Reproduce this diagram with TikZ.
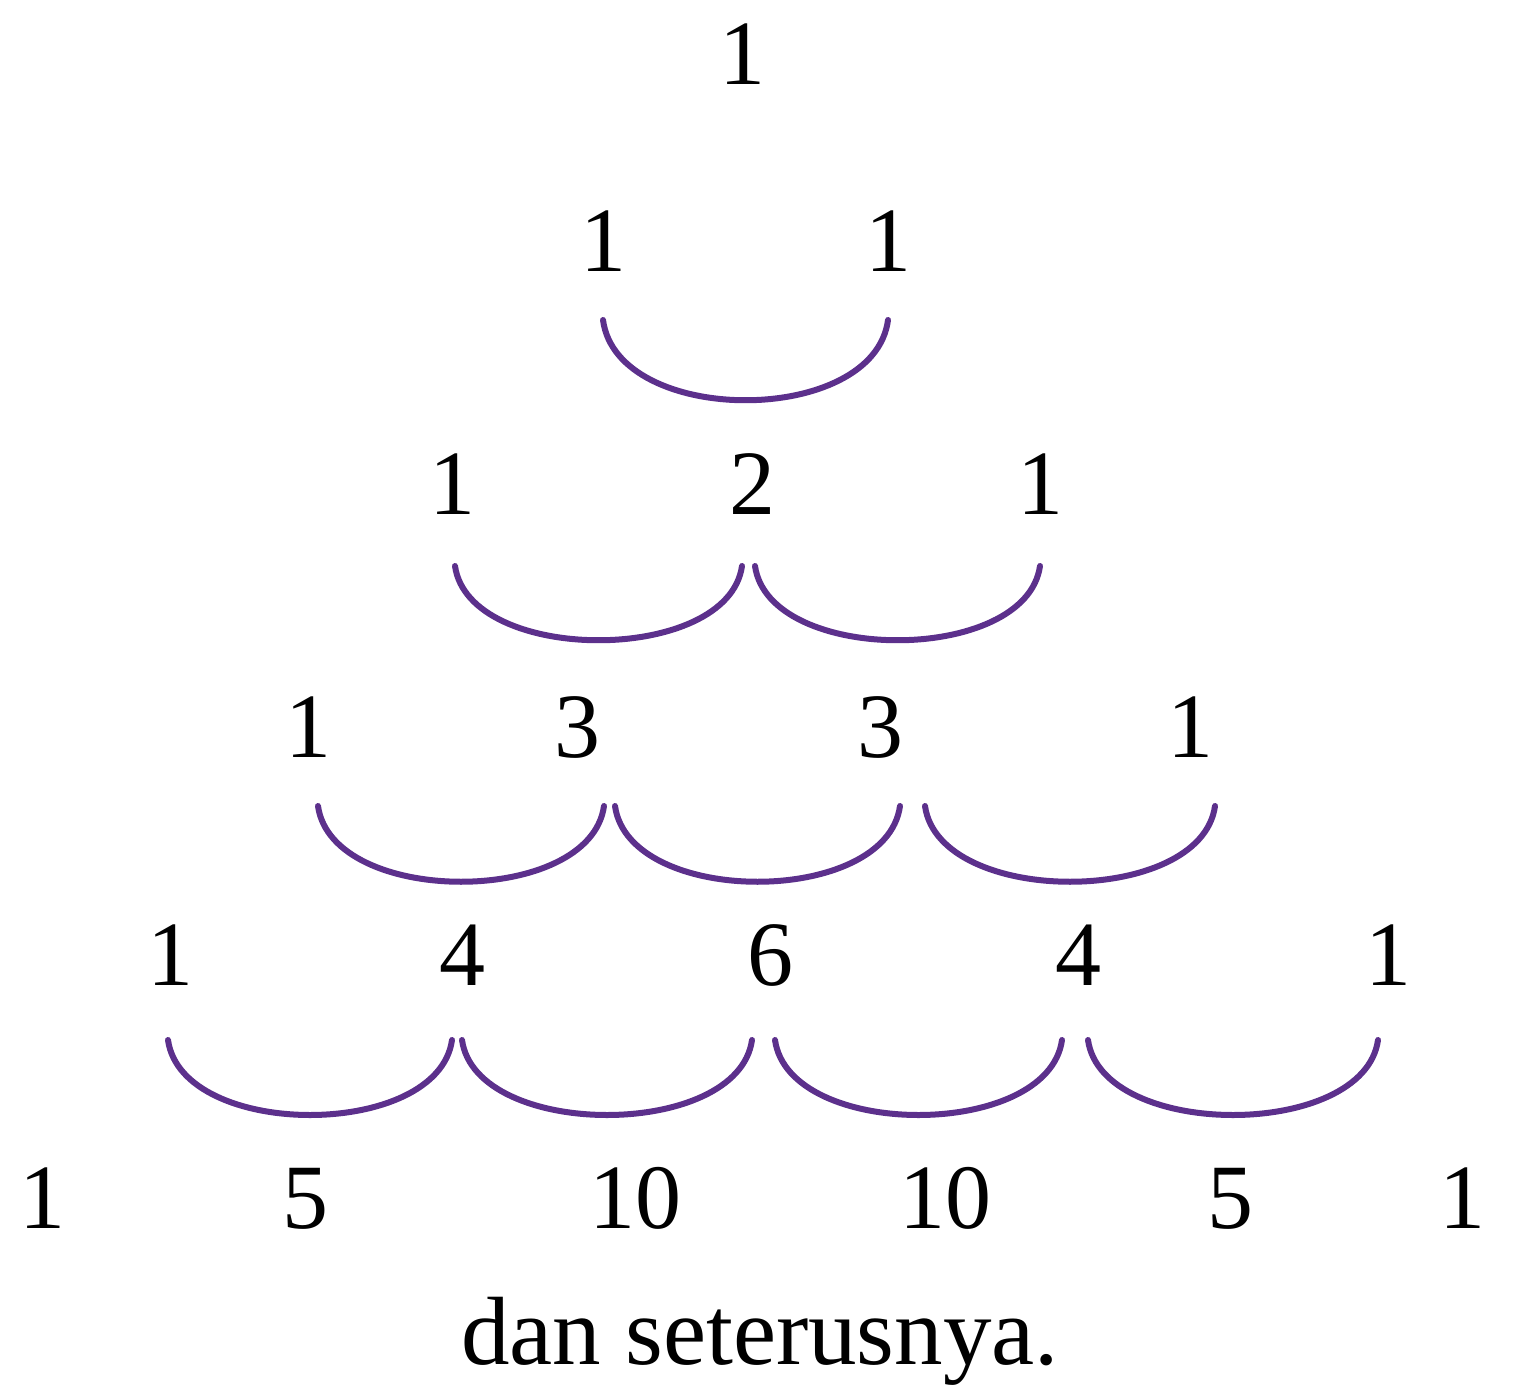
\documentclass[tikz,border=0pt]{standalone}
\usepackage{fontspec}
\setmainfont{Liberation Serif}
\definecolor{arcpurple}{RGB}{92,48,140}
\begin{document}
\begin{tikzpicture}[x=0.5pt,y=-0.5pt,
  num/.style={anchor=base,inner sep=0pt,font=\fontsize{46}{50}\selectfont},
  note/.style={anchor=base,inner sep=0pt,font=\fontsize{48.5}{54}\selectfont},
  link/.style={draw=arcpurple,line width=3pt,line cap=round}]
\useasboundingbox (0,0) rectangle (1530,1400);
% row 0
\node[num] (r0a) at (742,85) {1};
% row 1
\node[num] (r1a) at (603,272) {1};
\node[num] (r1b) at (888,272) {1};
% row 2
\node[num] (r2a) at (452,515) {1};
\node[num] (r2b) at (752,515) {2};
\node[num] (r2c) at (1040,515) {1};
% row 3
\node[num] (r3a) at (308,757) {1};
\node[num] (r3b) at (577,757) {3};
\node[num] (r3c) at (880,757) {3};
\node[num] (r3d) at (1190,757) {1};
% row 4
\node[num] (r4a) at (170,985) {1};
\node[num] (r4b) at (462,985) {4};
\node[num] (r4c) at (770,985) {6};
\node[num] (r4d) at (1078,985) {4};
\node[num] (r4e) at (1388,985) {1};
% row 5
\node[num] (r5a) at (42,1228) {1};
\node[num] (r5b) at (305,1228) {5};
\node[num] (r5c) at (635,1228) {10};
\node[num] (r5d) at (945,1228) {10};
\node[num] (r5e) at (1230,1228) {5};
\node[num] (r5f) at (1462,1228) {1};
\node[note] (txt) at (760,1364) {dan seterusnya.};
% arc end points
\coordinate (a1s) at (603,320); \coordinate (a1e) at (888,320);
\coordinate (a2s) at (455,566); \coordinate (a2e) at (742,566);
\coordinate (a3s) at (755,566); \coordinate (a3e) at (1040,566);
\coordinate (a4s) at (318,806); \coordinate (a4e) at (604,806);
\coordinate (a5s) at (615,806); \coordinate (a5e) at (900,806);
\coordinate (a6s) at (925,806); \coordinate (a6e) at (1215,806);
\coordinate (a7s) at (168,1040); \coordinate (a7e) at (452,1040);
\coordinate (a8s) at (462,1040); \coordinate (a8e) at (752,1040);
\coordinate (a9s) at (775,1040); \coordinate (a9e) at (1062,1040);
\coordinate (a10s) at (1088,1040); \coordinate (a10e) at (1378,1040);
\foreach \i/\d in {1/107,2/99,3/99,4/101,5/101,6/101,7/100,8/100,9/100,10/100}{
  \draw[link] (a\i s) .. controls +(14,\d) and +(-14,\d) .. (a\i e);
}
\end{tikzpicture}
\end{document}
